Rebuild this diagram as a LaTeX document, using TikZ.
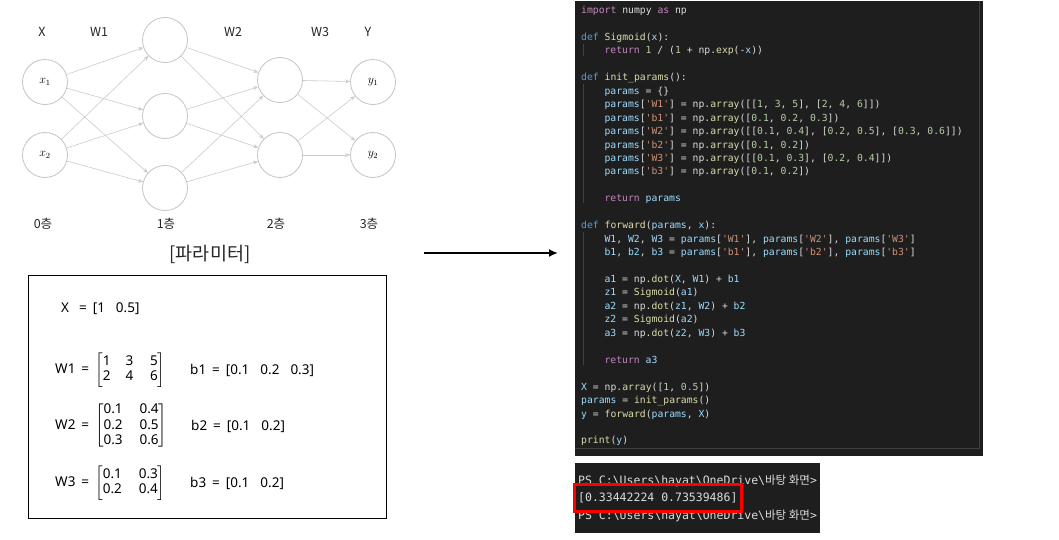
\documentclass[tikz,border=0pt]{standalone}
\usepackage{fontspec}
\setmainfont{Noto Sans CJK KR}
\setmonofont{DejaVu Sans Mono}
\newfontfamily\krfont{Noto Sans CJK KR}
\newfontfamily\boxfont{Noto Sans}
\usepackage{amsmath}
\usetikzlibrary{arrows.meta,positioning}

\definecolor{netgray}{HTML}{C4C4C4}
\definecolor{syngray}{HTML}{CCCCCC}
\definecolor{codebg}{HTML}{1E1E1E}
\definecolor{codefg}{HTML}{DCDCDC}
\definecolor{codekw}{HTML}{C586C0}
\definecolor{codedef}{HTML}{569CD6}
\definecolor{codefn}{HTML}{DCDCAA}
\definecolor{codestr}{HTML}{CE9178}
\definecolor{codenum}{HTML}{B5CEA8}
\definecolor{codevar}{HTML}{9CDCFE}
\definecolor{guide}{HTML}{404040}

\newcommand{\kw}[1]{\textcolor{codekw}{#1}}
\newcommand{\df}[1]{\textcolor{codedef}{#1}}
\newcommand{\fn}[1]{\textcolor{codefn}{#1}}
\newcommand{\st}[1]{\textcolor{codestr}{#1}}
\newcommand{\nm}[1]{\textcolor{codenum}{#1}}
\newcommand{\vr}[1]{\textcolor{codevar}{#1}}
\newcommand{\mat}[2]{$\left[\begin{tabular}{@{}#1@{}}#2\end{tabular}\right]$}
\newcommand{\eq}{\hspace{6pt}=\hspace{6pt}}
\newcommand{\gap}{\hspace{11pt}}

\tikzset{
  neuron/.style={circle,draw=netgray,line width=0.8pt,minimum size=45pt,inner sep=0pt,font=\fontsize{12}{12}\selectfont},
  syn/.style={draw=syngray,line width=0.6pt,-{Stealth[length=5pt,width=4pt]}},
  lbl/.style={inner sep=0pt,font=\fontsize{12.5}{12.5}\selectfont,text=black!85},
  eqn/.style={anchor=west,inner sep=0pt,font=\boxfont\fontsize{13.5}{15.5}\selectfont},
  codeline/.style={anchor=base west,inner sep=0pt,font=\ttfamily\fontsize{9.75}{11}\selectfont,text=codefg},
  termline/.style={anchor=base west,inner sep=0pt,font=\ttfamily\fontsize{11.5}{13}\selectfont,text=codefg}
}

\begin{document}
\begin{tikzpicture}[x=1pt,y=-1pt]
\useasboundingbox[fill=white] (0,0) rectangle (1059,539);

% network
\node[neuron] (n01) at (45,82) {$x_1$};
\node[neuron] (n02) at (45,155) {$x_2$};
\node[neuron] (n11) at (165,40) {};
\node[neuron] (n12) at (165,116) {};
\node[neuron] (n13) at (165,188) {};
\node[neuron] (n21) at (280,80) {};
\node[neuron] (n22) at (280,155) {};
\node[neuron] (n31) at (373,82) {$y_1$};
\node[neuron] (n32) at (373,155) {$y_2$};
\foreach \i in {1,2}
  \foreach \j in {1,2,3}
    \draw[syn] (n0\i) -- (n1\j);
\foreach \i in {1,2,3}
  \foreach \j in {1,2}
    \draw[syn] (n1\i) -- (n2\j);
\foreach \i in {1,2}
  \foreach \j in {1,2}
    \draw[syn] (n2\i) -- (n3\j);

\node[lbl] (tX) at (42,32) {X};
\node[lbl] (tW1) at (99,32) {W1};
\node[lbl] (tW2) at (233,32) {W2};
\node[lbl] (tW3) at (320,32) {W3};
\node[lbl] (tY) at (368,32) {Y};
\node[lbl] (l0) at (43,224) {0층};
\node[lbl] (l1) at (166,224) {1층};
\node[lbl] (l2) at (276,224) {2층};
\node[lbl] (l3) at (369,224) {3층};
\node[lbl,font=\fontsize{18.5}{18.5}\selectfont] (param) at (210,254) {[파라미터]};

% parameter box
\draw[line width=1pt] (28,275) rectangle (386,518);
\node[eqn] (eqX) at (61,309) {X\hspace{4pt}\eq[1\gap 0.5]};
\node[eqn] (eqW1) at (55,370) {W1\eq\mat{c@{\hspace{15pt}}c@{\hspace{17pt}}c}{1&3&5\\2&4&6}};
\node[eqn] (eqb1) at (190,370) {b1\eq[0.1\gap 0.2\gap 0.3]};
\node[eqn] (eqW2) at (55,426) {W2\eq\mat{l@{\hspace{17pt}}l}{0.1&0.4\\0.2&0.5\\0.3&0.6}};
\node[eqn] (eqb2) at (191,426) {b2\eq[0.1\gap 0.2]};
\node[eqn] (eqW3) at (55,483) {W3\eq\mat{l@{\hspace{17pt}}l}{0.1&0.3\\0.2&0.4}};
\node[eqn] (eqb3) at (190,483) {b3\eq[0.1\gap 0.2]};

% arrow
\coordinate (arrS) at (424,253);
\coordinate (arrE) at (558,253);
\draw[line width=2pt,-{Latex[length=9pt,width=8pt]}] (arrS) -- (arrE);

% code panel
\fill[codebg] (575,1) rectangle (983,456);
\draw[guide,line width=0.4pt] (979,1) -- (979,448) -- (575,448);
\draw[guide,line width=0.6pt] (583,44) -- (583,56);
\draw[guide,line width=0.6pt] (583,84) -- (583,203);
\draw[guide,line width=0.6pt] (583,232) -- (583,365);
\node[codeline] (c00) at (581,13.5) {\kw{import} numpy \kw{as} np};
\node[codeline] (c02) at (581,40.4) {\df{def} \fn{Sigmoid}(\vr{x}):};
\node[codeline] (c03) at (604.4,53.85) {\kw{return} \nm{1} / (\nm{1} + np.\fn{exp}(-\vr{x}))};
\node[codeline] (c05) at (581,80.75) {\df{def} \fn{init\_params}():};
\node[codeline] (c06) at (604.4,94.2) {\vr{params} = \{\}};
\node[codeline] (c07) at (604.4,107.65) {\vr{params}[\st{'W1'}] = np.\fn{array}([[\nm{1}, \nm{3}, \nm{5}], [\nm{2}, \nm{4}, \nm{6}]])};
\node[codeline] (c08) at (604.4,121.1) {\vr{params}[\st{'b1'}] = np.\fn{array}([\nm{0.1}, \nm{0.2}, \nm{0.3}])};
\node[codeline] (c09) at (604.4,134.55) {\vr{params}[\st{'W2'}] = np.\fn{array}([[\nm{0.1}, \nm{0.4}], [\nm{0.2}, \nm{0.5}], [\nm{0.3}, \nm{0.6}]])};
\node[codeline] (c10) at (604.4,148) {\vr{params}[\st{'b2'}] = np.\fn{array}([\nm{0.1}, \nm{0.2}])};
\node[codeline] (c11) at (604.4,161.45) {\vr{params}[\st{'W3'}] = np.\fn{array}([[\nm{0.1}, \nm{0.3}], [\nm{0.2}, \nm{0.4}]])};
\node[codeline] (c12) at (604.4,174.9) {\vr{params}[\st{'b3'}] = np.\fn{array}([\nm{0.1}, \nm{0.2}])};
\node[codeline] (c14) at (604.4,201.8) {\kw{return} \vr{params}};
\node[codeline] (c16) at (581,228.7) {\df{def} \fn{forward}(\vr{params}, \vr{x}):};
\node[codeline] (c17) at (604.4,242.15) {\vr{W1}, \vr{W2}, \vr{W3} = \vr{params}[\st{'W1'}], \vr{params}[\st{'W2'}], \vr{params}[\st{'W3'}]};
\node[codeline] (c18) at (604.4,255.6) {\vr{b1}, \vr{b2}, \vr{b3} = \vr{params}[\st{'b1'}], \vr{params}[\st{'b2'}], \vr{params}[\st{'b3'}]};
\node[codeline] (c20) at (604.4,282.5) {\vr{a1} = np.\fn{dot}(\vr{X}, \vr{W1}) + \vr{b1}};
\node[codeline] (c21) at (604.4,295.95) {\vr{z1} = \fn{Sigmoid}(\vr{a1})};
\node[codeline] (c22) at (604.4,309.4) {\vr{a2} = np.\fn{dot}(\vr{z1}, \vr{W2}) + \vr{b2}};
\node[codeline] (c23) at (604.4,322.85) {\vr{z2} = \fn{Sigmoid}(\vr{a2})};
\node[codeline] (c24) at (604.4,336.3) {\vr{a3} = np.\fn{dot}(\vr{z2}, \vr{W3}) + \vr{b3}};
\node[codeline] (c26) at (604.4,363.2) {\kw{return} \vr{a3}};
\node[codeline] (c28) at (581,390.1) {\vr{X} = np.\fn{array}([\nm{1}, \nm{0.5}])};
\node[codeline] (c29) at (581,403.55) {\vr{params} = \fn{init\_params}()};
\node[codeline] (c30) at (581,417) {\vr{y} = \fn{forward}(\vr{params}, \vr{X})};
\node[codeline] (c32) at (581,443.9) {\fn{print}(\vr{y})};

% terminal
\fill[codebg] (575,463) rectangle (820,533);
\begin{scope}
  \clip (575,463) rectangle (820,533);
  \node[termline] (t1) at (578,484) {PS C:\textbackslash Users\textbackslash hayat\textbackslash OneDrive\textbackslash{\krfont 바탕 화면}>};
  \node[termline] (t2) at (578,501) {[0.33442224 0.73539486]};
  \node[termline] (t3) at (578,519) {PS C:\textbackslash Users\textbackslash hayat\textbackslash OneDrive\textbackslash{\krfont 바탕 화면}>};
\end{scope}
\draw[red,line width=3pt] (574,484) rectangle (741,511);
\end{tikzpicture}
\end{document}
